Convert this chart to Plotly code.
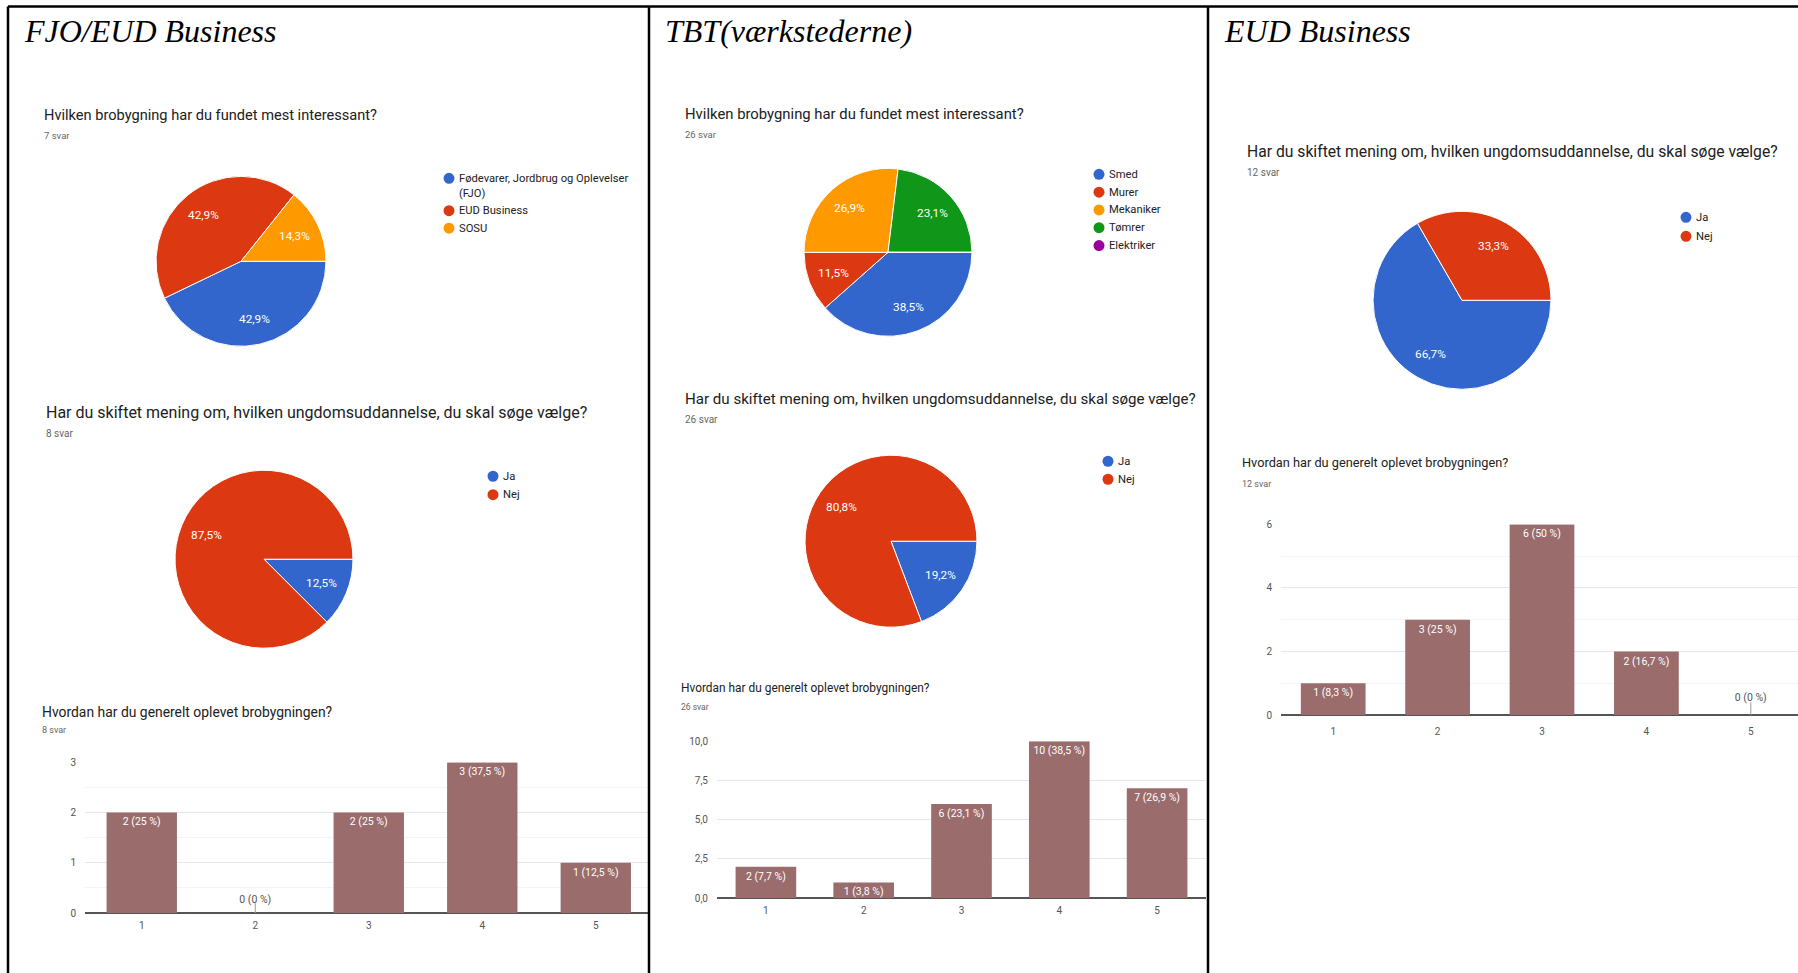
import math
import plotly.graph_objects as go

W, H = 1798, 973

# ---------------- data ----------------
fjo_q1_labels = ["Fødevarer, Jordbrug og Oplevelser (FJO)", "EUD Business", "SOSU"]
fjo_q1_counts = [3, 3, 1]
fjo_q2_labels = ["Ja", "Nej"]
fjo_q2_counts = [1, 7]
fjo_rating = [2, 0, 2, 3, 1]

tbt_q1_labels = ["Smed", "Murer", "Mekaniker", "Tømrer", "Elektriker"]
tbt_q1_counts = [10, 3, 7, 6, 0]
tbt_q2_labels = ["Ja", "Nej"]
tbt_q2_counts = [5, 21]
tbt_rating = [2, 1, 6, 10, 7]

eud_q2_labels = ["Ja", "Nej"]
eud_q2_counts = [8, 4]
eud_rating = [1, 3, 6, 2, 0]

rating_categories = ["1", "2", "3", "4", "5"]

col_headers = ["FJO/EUD Business", "TBT(værkstederne)", "EUD Business"]
q_pref = "Hvilken brobygning har du fundet mest interessant?"
q_change = "Har du skiftet mening om, hvilken ungdomsuddannelse, du skal søge vælge?"
q_rating = "Hvordan har du generelt oplevet brobygningen?"

palette = ["#3366cc", "#dc3912", "#ff9900", "#109618", "#990099"]
bar_color = "#9a6c6c"

FONT = "Roboto, Arial, sans-serif"
SERIF = "Liberation Serif, Times New Roman, serif"

# vertical calibration of the page layout (observed rendering offset/scale)
VA, VB = 0.988, 5.6


def px(x):
    return x / W


def py(y):
    return 1 - ((y - VB) / VA) / H


fig = go.Figure()
annotations = []
shapes = []


def text(x, y, s, size, color="#212121", family=FONT, xanchor="left", yanchor="middle"):
    annotations.append(dict(x=px(x), y=py(y), xref="paper", yref="paper", text=s,
                            showarrow=False, xanchor=xanchor, yanchor=yanchor,
                            font=dict(size=size, color=color, family=family)))


def pie(labels, counts, cx, cy, r):
    fig.add_trace(go.Pie(
        labels=labels, values=counts, sort=False, direction="clockwise", rotation=90,
        marker=dict(colors=palette[:len(labels)], line=dict(color="white", width=1)),
        textinfo="none",
        domain=dict(x=[px(cx - r), px(cx + r)], y=[py(cy + r), py(cy - r)]),
        showlegend=False, hoverinfo="label+value+percent"))
    # percentage labels placed along each slice bisector (Google Forms style)
    total = sum(counts)
    start = 0.0
    for c in counts:
        span = c / total * 360.0
        if c > 0:
            mid = math.radians(start + span / 2)
            lx = cx + 0.7 * r * math.cos(mid)
            ly = cy + 0.7 * r * math.sin(mid)
            pct = ("%.1f" % (c / total * 100)).replace(".", ",") + "%"
            text(lx, ly, pct, 11.8, "white", xanchor="center")
        start += span


def legend(labels, xdot, ytop, step, size=11.2, wrap=None):
    y = ytop
    for i, lab in enumerate(labels):
        shapes.append(dict(type="circle", xref="paper", yref="paper",
                           x0=px(xdot - 5.5), x1=px(xdot + 5.5), y0=py(y + 5.5), y1=py(y - 5.5),
                           fillcolor=palette[i], line=dict(width=0)))
        if wrap and len(lab) > wrap:
            cut = lab.rfind(" ", 0, wrap)
            first, second = lab[:cut], lab[cut + 1:]
            text(xdot + 8, y, first, size, "#222")
            y += step * 0.85
            text(xdot + 8, y, second, size, "#222")
        else:
            text(xdot + 8, y, lab, size, "#222")
        y += step


def fmt_pct(v, total):
    p = round(v / total * 100, 1)
    s = ("%.1f" % p).replace(".", ",")
    if s.endswith(",0"):
        s = s[:-2]
    return "%d (%s %%)" % (v, s)


def bars(vals, xa, ya, ymax, plot_h, stub_px):
    total = sum(vals)
    fig.add_trace(go.Bar(
        x=rating_categories, y=vals, marker=dict(color=bar_color, line=dict(width=0)),
        text=[fmt_pct(v, total) if v > 0 else "" for v in vals],
        textposition="inside", insidetextanchor="end", constraintext="none",
        textfont=dict(color="white", size=10.5, family=FONT),
        xaxis=xa, yaxis=ya, showlegend=False, hoverinfo="x+y"))
    # zero-valued answers: short grey stub with the label above it
    zx = [c for c, v in zip(rating_categories, vals) if v == 0]
    if zx:
        stub = ymax * stub_px / plot_h
        fig.add_trace(go.Scatter(
            x=zx, y=[0] * len(zx), mode="markers+text",
            marker=dict(size=2 * stub_px - 9, opacity=0),
            text=[fmt_pct(0, total)] * len(zx), textposition="top center",
            textfont=dict(color="#555", size=10.5, family=FONT),
            error_y=dict(type="data", symmetric=False, array=[stub] * len(zx),
                         arrayminus=[0] * len(zx), width=0, thickness=1, color="#999"),
            cliponaxis=False, xaxis=xa, yaxis=ya, showlegend=False, hoverinfo="skip"))


def axes(n, x0, x1, y0, y1, yr, dtick, minor, xr, xstand, tickfmt=None):
    xa = dict(domain=[px(x0), px(x1)], anchor="y" + n, type="category", range=xr,
              showgrid=False, showline=False, zeroline=False, ticks="",
              ticklabelstandoff=xstand,
              tickfont=dict(size=10, color="#555", family=FONT), fixedrange=True)
    ya = dict(domain=[py(y1), py(y0)], anchor="x" + n, range=yr, dtick=dtick, tick0=0,
              showgrid=True, gridcolor="#e6e6e6", gridwidth=1, zeroline=True,
              zerolinecolor="#555", zerolinewidth=1.5, showline=False, ticks="",
              ticklabelstandoff=8, tickfont=dict(size=10, color="#555", family=FONT),
              fixedrange=True)
    if minor:
        ya["minor"] = dict(dtick=minor, tick0=0, showgrid=True, gridcolor="#f3f3f3")
    if tickfmt:
        ya["tickformat"] = tickfmt
    return xa, ya


# ---------------- column 1 ----------------
text(22, 31, "<i>" + col_headers[0] + "</i>", 32, "black", SERIF)
text(42, 115, q_pref, 14.6)
text(42, 135, "7 svar", 9.5, "#666")
pie(fjo_q1_labels, fjo_q1_counts, 241, 261, 85)
legend(fjo_q1_labels, 449, 178, 17.5, wrap=34)

text(44, 412, q_change, 16)
text(44, 433, "8 svar", 10, "#666")
pie(fjo_q2_labels, fjo_q2_counts, 264, 559, 89)
legend(fjo_q2_labels, 493, 476, 18.5)

text(40, 712, q_rating, 13.9)
text(40, 730, "8 svar", 9, "#666")
bars(fjo_rating, "x", "y", 3, 151, 10)
xa1, ya1 = axes("", 85, 648, 762, 913, [0, 3], 1, 0.5, [-0.5, 4.46], 5)

# ---------------- column 2 ----------------
text(663, 31, "<i>" + col_headers[1] + "</i>", 32, "black", SERIF)
text(683, 114, q_pref, 14.85)
text(683, 134, "26 svar", 9.5, "#666")
pie(tbt_q1_labels, tbt_q1_counts, 888, 252, 84)
legend(tbt_q1_labels, 1099, 174, 17.8)

text(683, 399, q_change, 15.1)
text(683, 419, "26 svar", 10, "#666")
pie(tbt_q2_labels, tbt_q2_counts, 891, 541, 86)
legend(tbt_q2_labels, 1108, 461, 18)

text(679, 688, q_rating, 11.9)
text(679, 707, "26 svar", 8.5, "#666")
bars(tbt_rating, "x2", "y2", 10, 157, 10)
xa2, ya2 = axes("2", 717, 1206, 741, 898, [0, 10], 2.5, None, [-0.5, 4.5], 5, ".1f")

# ---------------- column 3 ----------------
text(1222, 31, "<i>" + col_headers[2] + "</i>", 32, "black", SERIF)
text(1245, 151, q_change, 15.7)
text(1245, 172, "12 svar", 10, "#666")
pie(eud_q2_labels, eud_q2_counts, 1462, 300, 89)
legend(eud_q2_labels, 1686, 217, 19)

text(1240, 462, q_rating, 12.75)
text(1240, 484, "12 svar", 9, "#666")
bars(eud_rating, "x3", "y3", 6, 191, 13)
xa3, ya3 = axes("3", 1281, 1798, 524, 715, [0, 6], 2, 1, [-0.5, 4.452], 9)

# ---------------- table borders ----------------
for (x0, y0, x1, y1) in [(8, 6, 1798, 6), (8, 6, 8, 990), (649, 6, 649, 990), (1208, 6, 1208, 990)]:
    shapes.append(dict(type="line", xref="paper", yref="paper", x0=px(x0), y0=py(y0),
                       x1=px(x1), y1=py(y1), line=dict(color="black", width=2.5)))

fig.update_layout(
    width=W, height=H, margin=dict(l=0, r=0, t=0, b=0),
    paper_bgcolor="white", plot_bgcolor="white",
    separators=",.", bargap=0.38,
    xaxis=xa1, yaxis=ya1, xaxis2=xa2, yaxis2=ya2, xaxis3=xa3, yaxis3=ya3,
    annotations=annotations, shapes=shapes,
    font=dict(family=FONT),
)

fig.write_html(
    "out.html",
    config={"displayModeBar": False},
    post_script=(
        "document.documentElement.style.margin='0';document.body.style.margin='0';"
        "document.body.style.overflow='hidden';"
        "var g=document.getElementById('{plot_id}');g.style.position='fixed';"
        "g.style.left='0px';g.style.top='0px';"
    ),
)
